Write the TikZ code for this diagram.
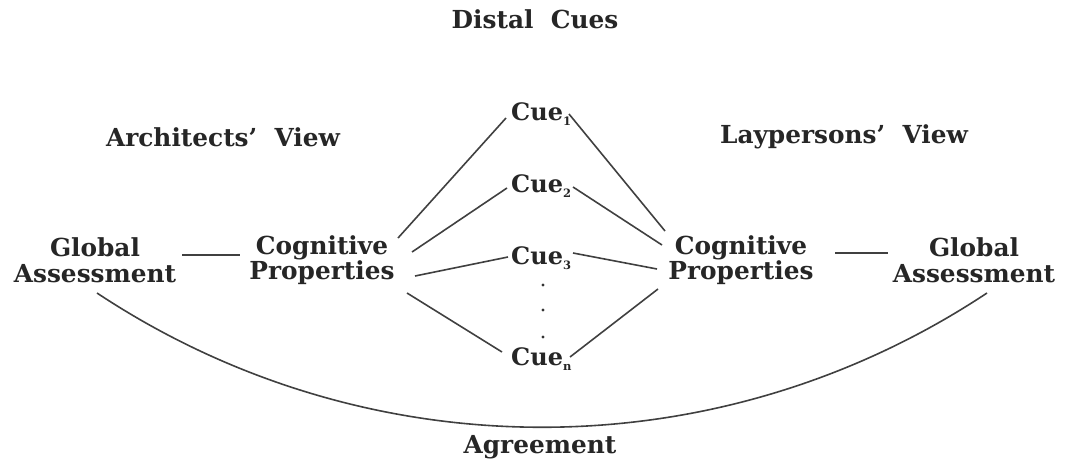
\documentclass[tikz,border=0pt]{standalone}
\usepackage{fontspec}
\setmainfont{DejaVu Serif}
\usetikzlibrary{calc}
\tikzset{
  lbl/.style={font=\fontsize{24.8}{25.5}\selectfont\bfseries, align=center, inner sep=0pt, text=black!85},
  cue/.style={font=\fontsize{24}{24}\selectfont\bfseries, anchor=west, inner sep=0pt, text=black!85},
  con/.style={line width=1.6pt, draw=black!75},
}
\newcommand{\subn}[1]{\raisebox{-0.45ex}{\fontsize{11.5}{11.5}\selectfont #1}}
\begin{document}
\begin{tikzpicture}[x=1pt,y=-1pt]
\useasboundingbox (0,0) rectangle (1065,461);
\node[lbl] (dc) at (535,19) {Distal\ \ Cues};
\node[lbl] (av) at (223,137) {Architects'\ \ View};
\node[lbl] (lv) at (844,137) {Laypersons'\ \ View};
\node[lbl] (lga) at (95,260) {Global\\Assessment};
\node[lbl] (lcp) at (322,260) {Cognitive\\Properties};
\node[lbl] (rcp) at (741,260) {Cognitive\\Properties};
\node[lbl] (rga) at (974,260) {Global\\Assessment};
\node[cue] (c1) at (511,114) {Cue\subn{1}};
\node[cue] (c2) at (511,186) {Cue\subn{2}};
\node[cue] (c3) at (511,258) {Cue\subn{3}};
\node[cue] (cn) at (511,359) {Cue\subn{n}};
\node[lbl] (ag) at (540,447) {Agreement};
\foreach \y/\nm in {285/d1,310/d2,337/d3}
  \fill[black!80] (543,\y) circle (1.7) coordinate (\nm);
\draw[con] ([shift={(87,-5)}]lga.center) -- ([shift={(-82,-5)}]lcp.center);
\draw[con] ([shift={(94,-7)}]rcp.center) -- ([shift={(-86,-7)}]rga.center);
\draw[con] ([shift={(76,-22)}]lcp.center) -- ([shift={(-5,4)}]c1.west);
\draw[con] ([shift={(90,-8)}]lcp.center) -- ([shift={(-4,2)}]c2.west);
\draw[con] ([shift={(93,16)}]lcp.center) -- ([shift={(-3,-1)}]c3.west);
\draw[con] ([shift={(85,33)}]lcp.center) -- ([shift={(-9,-7)}]cn.west);
\draw[con] ([shift={(58,0)}]c1.west) -- ([shift={(-76,-29)}]rcp.center);
\draw[con] ([shift={(62,1)}]c2.west) -- ([shift={(-79,-15)}]rcp.center);
\draw[con] ([shift={(62,-5)}]c3.west) -- ([shift={(-84,9)}]rcp.center);
\draw[con] ([shift={(59,-2)}]cn.west) -- ([shift={(-83,29)}]rcp.center);
\draw[con] ([shift={(2,33)}]lga.center) .. controls (367,472) and (717,472) .. ([shift={(13,33)}]rga.center);
\end{tikzpicture}
\end{document}
